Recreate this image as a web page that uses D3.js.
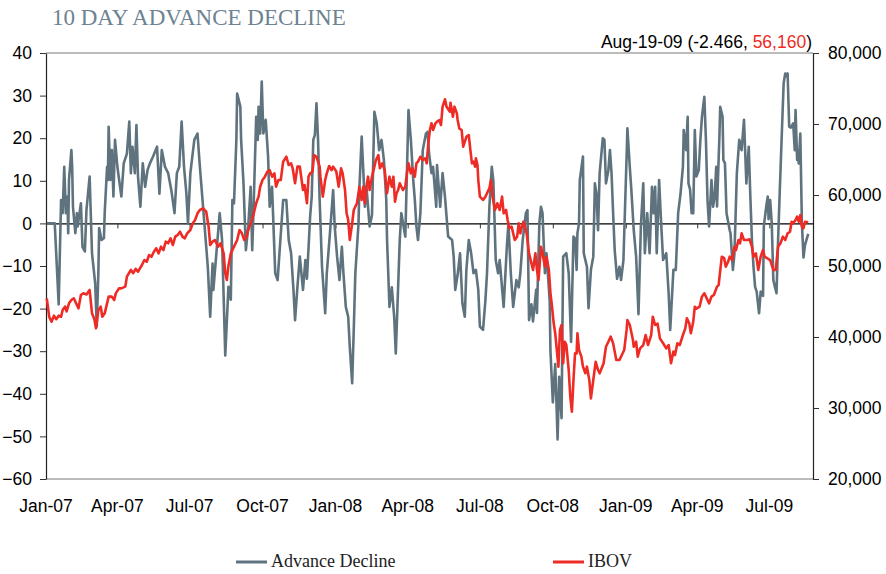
<!DOCTYPE html>
<html>
<head>
<meta charset="utf-8">
<script src="https://cdn.jsdelivr.net/npm/d3@7"></script>
<style>
  body { margin: 0; background: #fff; }
</style>
</head>
<body>
<svg id="chart" width="886" height="574"></svg>
<script>
// 10 day advance decline (left axis)
const adSeries = [
  ["07-01-02",0],["07-01-12",0],["07-01-17",-19],["07-01-20",5.5],["07-01-22",2.4],["07-01-24",13.3],["07-01-26",2.4],["07-01-28",6.3],["07-01-29",-2.3],["07-01-30",10.2],
  ["07-02-02",17.2],["07-02-03",13.3],["07-02-04",3.9],["07-02-07",-2.3],["07-02-09",2.4],["07-02-10",-0.7],["07-02-14",4.7],["07-02-16",-5.5],["07-02-19",-6.6],["07-02-21",3.1],["07-02-25",11],["07-02-28",-7],
  ["07-03-04",-14],["07-03-06",-24.2],["07-03-08",-11.7],["07-03-09",-1.1],["07-03-12",-3.9],["07-03-15",-3.5],["07-03-16",2.4],["07-03-19",13.3],["07-03-20",10.2],["07-03-21",22.7],["07-03-23",10.2],["07-03-25",17.2],["07-03-27",6.3],["07-03-29",19.6],
  ["07-04-01",13.3],["07-04-06",6.3],["07-04-09",14.1],["07-04-13",16.4],["07-04-16",23.9],["07-04-18",11.8],["07-04-20",18],["07-04-23",11.8],["07-04-25",23.1],["07-04-27",11],["07-04-30",3.9],
  ["07-05-03",14.1],["07-05-06",8.6],["07-05-09",12.5],["07-05-12",14.1],["07-05-16",15.7],["07-05-21",18],["07-05-24",7],["07-05-27",17.2],["07-05-31",13.3],
  ["07-06-04",11.8],["07-06-08",7.8],["07-06-12",2.4],["07-06-15",11.8],["07-06-18",13.3],["07-06-21",23.9],["07-06-24",13.3],["07-06-27",7],["07-06-29",0],
  ["07-07-02",11.8],["07-07-07",19.6],["07-07-11",21.1],["07-07-14",13.3],["07-07-17",6.3],["07-07-24",-10.2],["07-07-27",-21.9],["07-07-30",-9.4],["07-07-31",-15.6],
  ["07-08-08",2.4],["07-08-11",-3.9],["07-08-15",-31],["07-08-19",-14.9],["07-08-22",-17.9],["07-08-24",5.5],["07-08-26",4.7],["07-08-29",19.6],["07-08-30",30.5],
  ["07-09-03",27.4],["07-09-04",19.6],["07-09-07",9.4],["07-09-10",-6.3],["07-09-13",-0.7],["07-09-16",8.6],["07-09-18",-6.3],["07-09-20",5.5],["07-09-23",25],["07-09-25",19.6],["07-09-26",27.4],["07-09-28",21.1],["07-09-30",33.3],
  ["07-10-02",21.1],["07-10-05",24.3],["07-10-08",15.7],["07-10-10",3.9],["07-10-13",8.6],["07-10-17",-11.7],["07-10-20",-13.3],["07-10-27",5.5],["07-10-31",5.5],
  ["07-11-03",-3.9],["07-11-06",-7],["07-11-09",-15.6],["07-11-11",-22.7],["07-11-14",-14.9],["07-11-17",-7.8],["07-11-21",-15.6],["07-11-24",-8.6],["07-11-26",-13],["07-11-30",1.6],
  ["07-12-02",6.3],["07-12-04",19.6],["07-12-06",20.8],["07-12-08",28.2],["07-12-10",19.6],["07-12-12",5.5],["07-12-15",-10.2],["07-12-17",-15.6],["07-12-19",-21.1],["07-12-21",-11.7],["07-12-25",-2.3],["07-12-29",7.8],["07-12-31",-0.7],
  ["08-01-03",-7.8],["08-01-06",-13.3],["08-01-09",-5.5],["08-01-11",-11.7],["08-01-14",-19.6],["08-01-17",-21.9],["08-01-19",-29],["08-01-22",-37.5],["08-01-24",-25],["08-01-26",-11.7],["08-01-30",0],["08-01-31",7.8],
  ["08-02-03",20.4],["08-02-05",12.5],["08-02-07",3.9],["08-02-09",8.6],["08-02-13",-0.7],["08-02-16",2],["08-02-19",26.2],["08-02-22",23.5],["08-02-25",17.2],["08-02-28",19.6],
  ["08-03-02",14.9],["08-03-05",5.5],["08-03-06",-3.9],["08-03-09",-19.6],["08-03-12",-15],["08-03-15",-22],["08-03-17",-30.5],["08-03-19",-20],["08-03-22",-3.9],["08-03-24",2.4],["08-03-29",-3.1],
  ["08-04-02",26.6],["08-04-05",19.6],["08-04-08",10.2],["08-04-10",5.5],["08-04-12",-0.7],["08-04-14",-3.9],["08-04-17",2.4],["08-04-20",17.2],["08-04-24",21.1],["08-04-26",21.5],["08-04-28",16.4],
  ["08-05-01",11.8],["08-05-03",13.3],["08-05-07",3.9],["08-05-08",13.7],["08-05-12",3.9],["08-05-15",11.8],["08-05-18",6.3],["08-05-22",-3.1],["08-05-27",-3.9],["08-05-29",-7.8],["08-05-31",-15.6],
  ["08-06-03",-12],["08-06-06",-7],["08-06-09",-18.8],["08-06-12",-21.9],["08-06-14",-10.9],["08-06-17",-3.9],["08-06-20",-7],["08-06-23",-11.7],["08-06-26",-10.9],["08-06-29",-15.6],
  ["08-07-01",-24.2],["08-07-05",-25],["08-07-08",-18],["08-07-10",-11.7],["08-07-13",3.9],["08-07-16",13.3],["08-07-18",10],["08-07-21",-8.6],["08-07-24",-11.7],["08-07-26",-8.6],["08-07-31",-19.6],
  ["08-08-04",-5.5],["08-08-06",0],["08-08-09",-11.7],["08-08-12",-19.6],["08-08-16",-13.3],["08-08-19",-15],["08-08-21",-11.7],["08-08-24",-3.9],["08-08-28",2.4],["08-08-30",3.1],
  ["08-09-01",-22.7],["08-09-04",-19],["08-09-06",-23],["08-09-10",-15.6],["08-09-11",-21],["08-09-14",0],["08-09-16",3.9],["08-09-18",2.4],["08-09-21",-11.7],["08-09-23",-7],["08-09-27",-18],["08-09-28",-30],
  ["08-10-01",-42],["08-10-04",-33],["08-10-07",-50.7],["08-10-09",-36],["08-10-12",-45.7],["08-10-14",-7.8],["08-10-18",-7],["08-10-21",-11.7],["08-10-24",-27.8],["08-10-27",-3.1],["08-10-29",-3.5],["08-10-31",-10.9],
  ["08-11-01",-2.3],["08-11-03",0],["08-11-04",10.2],["08-11-08",15.7],["08-11-09",-7],["08-11-13",-10.2],["08-11-15",-19.9],["08-11-18",-10.9],["08-11-21",-7.8],["08-11-23",9.4],["08-11-25",7],["08-11-27",-1.6],["08-11-29",11.8],
  ["08-12-03",20],["08-12-05",19.6],["08-12-07",9.4],["08-12-10",12.5],["08-12-12",17.2],["08-12-14",11.8],["08-12-16",2.4],["08-12-18",-6.3],["08-12-21",-13],["08-12-24",-10.2],["08-12-26",-13.3],["08-12-29",-8.6],
  ["09-01-02",15.7],["09-01-03",22.3],["09-01-06",13.3],["09-01-08",7.8],["09-01-11",-1.6],["09-01-14",-7.8],["09-01-17",-21.3],["09-01-20",-0.7],["09-01-23",9.4],["09-01-25",-7],["09-01-28",2.4],["09-01-31",-7],
  ["09-02-03",8.6],["09-02-05",2.4],["09-02-07",8.6],["09-02-09",-7],["09-02-12",10.2],["09-02-14",2],["09-02-17",-8.6],["09-02-21",-7],["09-02-24",-16.4],["09-02-26",-25],
  ["09-03-02",-10.9],["09-03-05",-10.9],["09-03-08",2.4],["09-03-11",7],["09-03-14",13.3],["09-03-15",21.9],["09-03-18",17.2],["09-03-20",25],["09-03-21",9.4],["09-03-23",8],["09-03-25",2.4],["09-03-27",2.4],["09-03-29",21.9],["09-03-31",11],
  ["09-04-03",12.5],["09-04-05",19.6],["09-04-07",25],["09-04-10",29.7],["09-04-12",19.6],["09-04-14",5.5],["09-04-16",-0.7],["09-04-19",10.2],["09-04-21",3.9],["09-04-23",6.3],["09-04-25",13.3],["09-04-26",4],["09-04-29",20.4],["09-04-30",27.4],
  ["09-05-03",25],["09-05-04",14.9],["09-05-06",14.1],["09-05-08",2.4],["09-05-12",-1.6],["09-05-13",-2.3],["09-05-16",-10.9],["09-05-18",-7],["09-05-21",11.8],["09-05-24",19.6],["09-05-27",17.2],["09-05-30",24.3],
  ["09-06-02",9.4],["09-06-05",18],["09-06-07",6.3],["09-06-09",-3.9],["09-06-11",-10.2],["09-06-13",-14.9],["09-06-15",-16],["09-06-18",-21.1],["09-06-20",-16],["09-06-23",-17],["09-06-24",-0.7],["09-06-27",3.9],["09-06-29",6.3],["09-06-30",1],
  ["09-07-02",5.5],["09-07-04",0],["09-07-06",-13.3],["09-07-08",-14.9],["09-07-10",-16.4],["09-07-12",-3.9],["09-07-14",7],["09-07-17",22.7],["09-07-19",32.9],["09-07-21",35.2],["09-07-23",34.5],["09-07-24",35.2],["09-07-26",22.7],["09-07-28",22.5],["09-07-31",23.5],
  ["09-08-02",17.2],["09-08-03",26.6],["09-08-05",14.9],["09-08-06",17],["09-08-07",14.1],["09-08-09",21.1],["09-08-11",0],["09-08-13",-8],["09-08-15",-5],["09-08-19",-2.466]
];

// IBOV index (right axis)
const ibovSeries = [
  ["07-01-02",45450],["07-01-05",42860],["07-01-08",42150],["07-01-11",43000],["07-01-14",42500],["07-01-17",43000],["07-01-20",42860],["07-01-22",43800],["07-01-25",44270],["07-01-27",43600],["07-01-30",44740],
  ["07-02-02",45210],["07-02-05",45450],["07-02-08",44740],["07-02-11",44040],["07-02-14",45920],["07-02-17",46150],["07-02-21",46000],["07-02-25",46620],["07-02-28",43330],
  ["07-03-03",42500],["07-03-05",41220],["07-03-08",43800],["07-03-11",44270],["07-03-13",42850],["07-03-16",43330],["07-03-21",45680],["07-03-25",45680],["07-03-28",45210],["07-03-30",46150],
  ["07-04-03",46850],["07-04-06",46850],["07-04-11",47090],["07-04-13",48500],["07-04-18",49440],["07-04-21",49000],["07-04-24",49600],["07-04-27",49200],
  ["07-05-02",50140],["07-05-05",50840],["07-05-08",50600],["07-05-11",51550],["07-05-14",51300],["07-05-17",52010],["07-05-20",52490],["07-05-23",51780],["07-05-26",52720],["07-05-29",52250],
  ["07-06-01",53430],["07-06-04",53200],["07-06-07",53900],["07-06-10",52960],["07-06-13",54130],["07-06-16",54370],["07-06-19",54830],["07-06-22",54130],["07-06-25",53900],["07-06-28",54600],
  ["07-07-02",55070],["07-07-05",56010],["07-07-08",56480],["07-07-11",57420],["07-07-14",57890],["07-07-18",58120],["07-07-22",57650],["07-07-25",55540],["07-07-27",52960],["07-07-30",53430],
  ["07-08-02",53660],["07-08-06",52720],["07-08-09",53200],["07-08-13",51780],["07-08-15",48970],["07-08-17",48030],["07-08-19",50000],["07-08-22",51780],["07-08-25",52490],["07-08-30",53660],
  ["07-09-02",55070],["07-09-05",54600],["07-09-08",53660],["07-09-11",54130],["07-09-13",55070],["07-09-16",56010],["07-09-20",57420],["07-09-23",58830],["07-09-26",59770],["07-09-28",61170],
  ["07-10-01",62110],["07-10-04",62580],["07-10-07",63280],["07-10-10",63510],["07-10-13",62580],["07-10-16",63050],["07-10-18",61170],["07-10-21",62110],["07-10-24",62110],["07-10-27",64690],["07-10-31",65390],
  ["07-11-03",64220],["07-11-06",64460],["07-11-08",63760],["07-11-11",61650],["07-11-14",63990],["07-11-17",63990],["07-11-21",60700],["07-11-23",61400],["07-11-26",58830],["07-11-28",62580],["07-11-30",63050],
  ["07-12-03",63280],["07-12-05",65630],["07-12-08",65390],["07-12-12",64000],["07-12-13",62580],["07-12-16",59770],["07-12-19",62110],["07-12-21",63050],["07-12-24",64090],["07-12-27",63500],["07-12-29",64000],
  ["08-01-02",63300],["08-01-05",61170],["08-01-08",63750],["08-01-10",63050],["08-01-13",60700],["08-01-15",57420],["08-01-17",56480],["08-01-19",53660],["08-01-22",56000],["08-01-24",57890],["08-01-28",58830],["08-01-30",60240],["08-01-31",61170],
  ["08-02-03",59300],["08-02-05",61170],["08-02-07",58830],["08-02-09",61170],["08-02-11",62580],["08-02-13",60700],["08-02-16",62580],["08-02-19",64000],["08-02-21",64930],["08-02-24",65630],["08-02-26",63760],["08-02-29",64460],
  ["08-03-03",63500],["08-03-06",60240],["08-03-09",62580],["08-03-12",61170],["08-03-14",62580],["08-03-16",59060],["08-03-18",60240],["08-03-20",60700],["08-03-22",61650],["08-03-26",60700],["08-03-29",61170],["08-03-31",63050],
  ["08-04-02",64460],["08-04-05",63050],["08-04-07",63760],["08-04-10",62580],["08-04-12",64460],["08-04-14",64700],["08-04-17",65390],["08-04-20",64930],["08-04-23",65160],["08-04-25",64460],["08-04-27",67280],["08-04-29",69160],
  ["08-05-01",70100],["08-05-03",69160],["08-05-06",70100],["08-05-08",70330],["08-05-11",70560],["08-05-13",69860],["08-05-15",72440],["08-05-18",73480],["08-05-20",72440],["08-05-24",71740],["08-05-25",73000],["08-05-28",71030],["08-05-30",72440],
  ["08-06-02",71500],["08-06-03",70560],["08-06-05",69390],["08-06-08",69160],["08-06-10",66800],["08-06-14",68200],["08-06-17",68450],["08-06-19",66340],["08-06-21",64460],["08-06-23",64700],["08-06-25",63990],["08-06-26",65160],["08-06-28",64220],["08-06-29",62110],
  ["08-07-01",59770],["08-07-05",59300],["08-07-08",59770],["08-07-10",60240],["08-07-13",60940],["08-07-15",62110],["08-07-17",59770],["08-07-20",57890],["08-07-23",58830],["08-07-26",57890],["08-07-29",59770],["08-07-31",57420],
  ["08-08-03",57890],["08-08-05",56480],["08-08-07",55310],["08-08-10",55540],["08-08-12",54600],["08-08-14",53660],["08-08-17",54130],["08-08-19",56010],["08-08-21",54600],["08-08-23",55540],["08-08-25",56240],["08-08-27",55540],["08-08-29",54600],
  ["08-09-01",51780],["08-09-04",50380],["08-09-06",49440],["08-09-09",51780],["08-09-11",49440],["08-09-13",48030],["08-09-16",52720],["08-09-18",51780],["08-09-21",49910],["08-09-23",51310],["08-09-26",49440],["08-09-28",46150],["08-09-30",44270],
  ["08-10-02",42000],["08-10-04",40520],["08-10-06",38170],["08-10-08",35820],["08-10-10",40990],["08-10-12",41690],["08-10-14",36300],["08-10-16",39340],["08-10-18",38900],["08-10-21",35350],["08-10-23",31590],["08-10-25",29480],["08-10-27",33940],["08-10-29",37700],["08-10-31",37700],
  ["08-11-01",40520],["08-11-03",38170],["08-11-06",37230],["08-11-08",35820],["08-11-11",34890],["08-11-13",35820],["08-11-16",33940],["08-11-18",31360],["08-11-21",33940],["08-11-24",36520],["08-11-27",35350],["08-11-29",34890],
  ["08-12-04",36300],["08-12-07",38630],["08-12-10",39340],["08-12-13",40050],["08-12-16",39110],["08-12-20",36760],["08-12-24",36760],["08-12-27",37460],["08-12-30",38170],
  ["09-01-02",40990],["09-01-03",42400],["09-01-06",41690],["09-01-10",39580],["09-01-11",38630],["09-01-14",39340],["09-01-16",37230],["09-01-19",38400],["09-01-23",38870],["09-01-26",40280],["09-01-29",38870],
  ["09-02-02",40280],["09-02-04",42860],["09-02-07",41690],["09-02-10",41900],["09-02-13",39810],["09-02-17",39110],["09-02-21",38400],["09-02-24",38870],["09-02-27",36300],
  ["09-03-02",37940],["09-03-04",37460],["09-03-07",39110],["09-03-10",38870],["09-03-14",40280],["09-03-17",41220],["09-03-19",42630],["09-03-22",41920],["09-03-24",40520],["09-03-27",42160],["09-03-29",44270],["09-03-31",44000],
  ["09-04-04",44270],["09-04-07",45680],["09-04-10",46150],["09-04-13",45450],["09-04-16",44740],["09-04-19",45680],["09-04-22",45920],["09-04-26",47090],["09-04-28",47300],
  ["09-05-02",51310],["09-05-05",51100],["09-05-07",49910],["09-05-10",50610],["09-05-12",51310],["09-05-15",50850],["09-05-18",52720],["09-05-20",52250],["09-05-23",53660],["09-05-25",53200],["09-05-27",54600],["09-05-30",53660],
  ["09-06-03",53660],["09-06-06",53750],["09-06-09",52720],["09-06-11",51310],["09-06-14",51780],["09-06-17",49440],["09-06-20",51310],["09-06-23",52250],["09-06-25",51310],["09-06-28",51100],
  ["09-07-02",50840],["09-07-06",49440],["09-07-09",49440],["09-07-12",52720],["09-07-15",53200],["09-07-18",54130],["09-07-21",53660],["09-07-24",54600],["09-07-27",54830],["09-07-29",56240],["09-07-31",56010],
  ["09-08-03",56480],["09-08-05",56950],["09-08-07",56240],["09-08-09",57190],["09-08-11",55540],["09-08-13",55310],["09-08-15",56240],["09-08-19",56160]
];

const quarterLabels = ["Jan-07","Apr-07","Jul-07","Oct-07","Jan-08","Apr-08","Jul-08","Oct-08","Jan-09","Apr-09","Jul-09"];
const leftTicks = [40, 30, 20, 10, 0, -10, -20, -30, -40, -50, -60];
const rightTicks = [80000, 70000, 60000, 50000, 40000, 30000, 20000];
const seriesNames = ["Advance Decline", "IBOV"];
const lastDate = "Aug-19-09";
const lastAd = "-2.466";
const lastIbov = "56,160";

const parseDate = d3.timeParse("%y-%m-%d");
const parseQuarter = d3.timeParse("%b-%y");
const adColor = "#5f737e", ibovColor = "#ee2b25";
const axisFont = "'Liberation Sans', Arial, sans-serif";
const serifFont = "'Liberation Serif', 'Times New Roman', serif";

var svg = d3.select("#chart"),
    margin = { top: 53, right: 73, bottom: 95, left: 46 },
    width = 886 - margin.left - margin.right,
    height = 574 - margin.top - margin.bottom;

// title
svg.append("text")
    .attr("x", 52).attr("y", 25)
    .style("font-family", serifFont)
    .style("font-size", "23px")
    .attr("fill", "#6d8391")
    .text("10 DAY ADVANCE DECLINE");

var g = svg.append("g")
    .attr("transform", "translate(" + margin.left + "," + margin.top + ")");

var x = d3.scaleTime()
    .domain([new Date(2007, 0, 1), new Date(2009, 7, 25)])
    .range([0, width]);
var yL = d3.scaleLinear().domain([-60, 40]).range([height, 0]);
var yR = d3.scaleLinear().domain([20000, 80000]).range([height, 0]);

// plot area top / bottom border
g.append("line").attr("x1", 0).attr("x2", width).attr("y1", 0).attr("y2", 0)
    .attr("stroke", "#a6a6a6").attr("stroke-width", 1.5);
g.append("line").attr("x1", 0).attr("x2", width).attr("y1", height).attr("y2", height)
    .attr("stroke", "#a6a6a6").attr("stroke-width", 1.5);

// left axis
var leftAxis = g.append("g")
    .call(d3.axisLeft(yL).tickValues(leftTicks).tickSize(6).tickSizeOuter(0).tickPadding(8));
// right axis
var rightAxis = g.append("g")
    .attr("transform", "translate(" + width + ",0)")
    .call(d3.axisRight(yR).tickValues(rightTicks).tickSize(6).tickSizeOuter(0).tickPadding(9)
        .tickFormat(d3.format(",")));

[leftAxis, rightAxis].forEach(a => {
    a.selectAll("text")
        .style("font-family", axisFont)
        .style("font-size", "17.5px")
        .attr("fill", "#000");
    a.selectAll("line").attr("stroke", "#333");
    a.select(".domain").attr("stroke", "#222").attr("stroke-width", 1.2);
});

// zero line with quarter ticks
var quarterDates = quarterLabels.map(parseQuarter);
var zeroAxis = g.append("g")
    .attr("transform", "translate(0," + yL(0) + ")")
    .call(d3.axisBottom(x).tickValues(quarterDates).tickSize(5).tickSizeOuter(0).tickFormat(""));
zeroAxis.select(".domain").attr("stroke", "#000").attr("stroke-width", 1.2);
zeroAxis.selectAll("line").attr("stroke", "#333");

// quarter labels under plot
g.selectAll(".qlabel")
    .data(quarterLabels)
    .enter()
    .append("text")
    .attr("x", d => x(parseQuarter(d)))
    .attr("y", height + 33)
    .attr("text-anchor", "middle")
    .style("font-family", axisFont)
    .style("font-size", "17.5px")
    .text(d => d);

// series
var adLine = d3.line()
    .x(d => x(parseDate(d[0])))
    .y(d => yL(d[1]));
var ibovLine = d3.line()
    .x(d => x(parseDate(d[0])))
    .y(d => yR(d[1]));

g.append("path")
    .datum(adSeries)
    .attr("d", adLine)
    .attr("fill", "none")
    .attr("stroke", adColor)
    .attr("stroke-width", 2.6)
    .attr("stroke-linejoin", "round");

g.append("path")
    .datum(ibovSeries)
    .attr("d", ibovLine)
    .attr("fill", "none")
    .attr("stroke", ibovColor)
    .attr("stroke-width", 2.6)
    .attr("stroke-linejoin", "round");

// last value note
var note = svg.append("text")
    .attr("x", 812).attr("y", 48)
    .attr("text-anchor", "end")
    .style("font-family", axisFont)
    .style("font-size", "17.5px");
note.append("tspan").text(lastDate + " (" + lastAd + ", ");
note.append("tspan").attr("fill", ibovColor).text(lastIbov);
note.append("tspan").text(")");

// legend
var legend = svg.append("g");
var legendPos = [236, 553];
seriesNames.forEach((name, i) => {
    legend.append("line")
        .attr("x1", legendPos[i]).attr("x2", legendPos[i] + 31)
        .attr("y1", 562).attr("y2", 562)
        .attr("stroke", i === 0 ? adColor : ibovColor)
        .attr("stroke-width", 3);
    legend.append("text")
        .attr("x", legendPos[i] + 35).attr("y", 567)
        .style("font-family", serifFont)
        .style("font-size", "18px")
        .attr("fill", "#222")
        .text(name);
});
</script>
</body>
</html>
